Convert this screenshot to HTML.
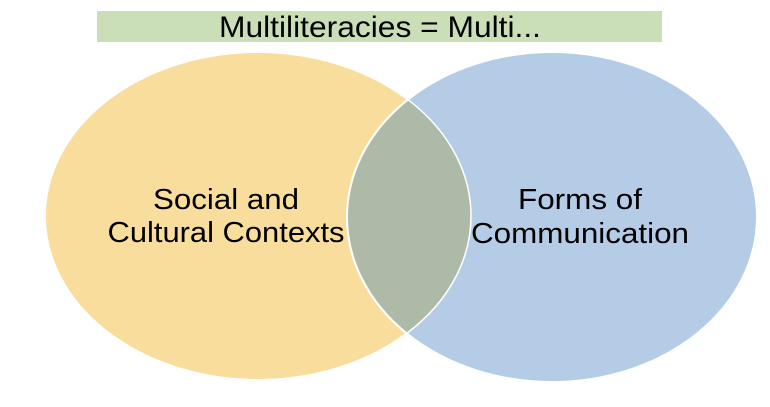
<!DOCTYPE html>
<html><head><style>
body{margin:0;width:770px;height:402px;background:#fff;overflow:hidden;font-family:"Liberation Sans",Arial,sans-serif;}
</style></head><body>
<svg width="770" height="402" xmlns="http://www.w3.org/2000/svg">
<rect x="97" y="11" width="565" height="31" fill="#cadfb8"/>
<text x="380" y="37" font-size="30" text-anchor="middle" font-family="Liberation Sans, Arial, sans-serif" fill="#000" textLength="322" lengthAdjust="spacingAndGlyphs">Multiliteracies = Multi...</text>
<defs><clipPath id="L"><ellipse cx="258" cy="216" rx="213" ry="164"/></clipPath></defs>
<ellipse cx="258" cy="216" rx="213" ry="164" fill="#f9dd9c" stroke="#fff" stroke-width="2"/>
<ellipse cx="552" cy="217" rx="205" ry="165" fill="#b4cce5" stroke="#fff" stroke-width="2"/>
<ellipse cx="552" cy="217" rx="205" ry="165" fill="#aebaa8" clip-path="url(#L)" stroke="#fff" stroke-width="2"/>
<ellipse cx="258" cy="216" rx="213" ry="164" fill="none" stroke="#fff" stroke-width="1.5"/>
<g font-size="29" text-anchor="middle" fill="#000" font-family="Liberation Sans, Arial, sans-serif">
<text x="226" y="209" textLength="146" lengthAdjust="spacingAndGlyphs">Social and</text>
<text x="226" y="242" textLength="237" lengthAdjust="spacingAndGlyphs">Cultural Contexts</text>
<text x="580" y="209" textLength="124" lengthAdjust="spacingAndGlyphs">Forms of</text>
<text x="580" y="243" textLength="218" lengthAdjust="spacingAndGlyphs">Communication</text>
</g>
</svg>
</body></html>
